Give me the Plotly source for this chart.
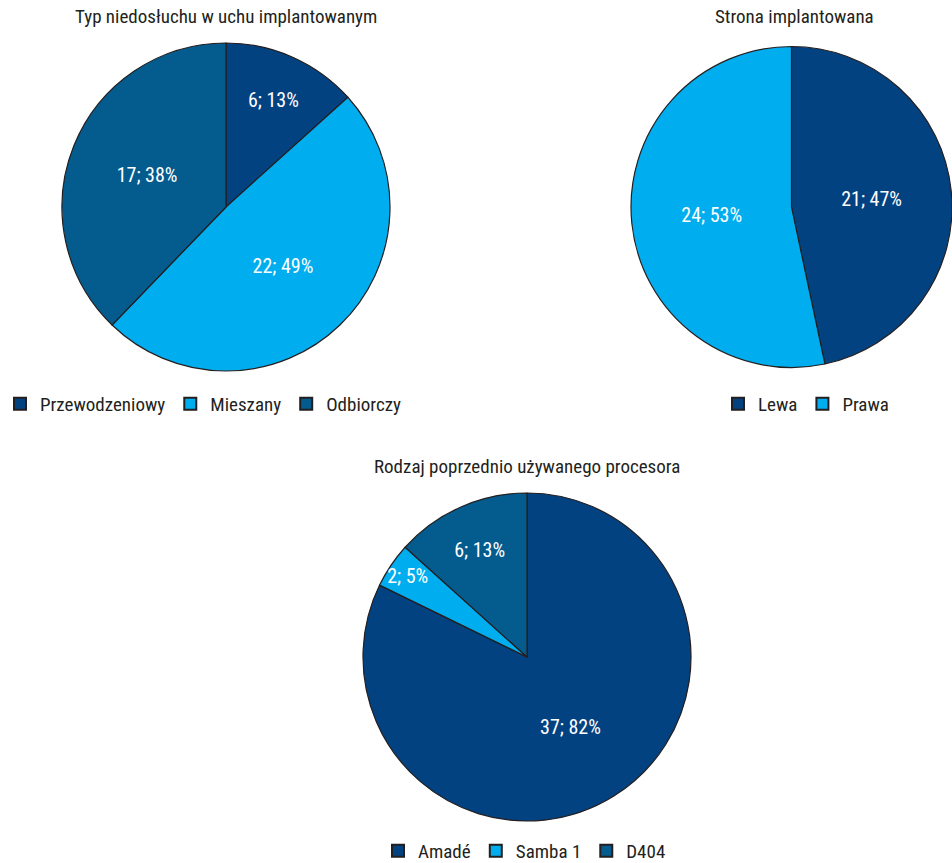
import plotly.graph_objects as go

# Data
typ_labels = ["Przewodzeniowy", "Mieszany", "Odbiorczy"]
typ_values = [6, 22, 17]
typ_pct = [13, 49, 38]

strona_labels = ["Lewa", "Prawa"]
strona_values = [21, 24]
strona_pct = [47, 53]

proc_labels = ["Amadé", "Samba 1", "D404"]
proc_values = [37, 2, 6]
proc_pct = [82, 5, 13]

DARK = "#034281"
LIGHT = "#00aeef"
MED = "#035b8e"
TXT = "#231f20"
FONT = "Liberation Sans Narrow, Roboto Condensed, Arial Narrow, sans-serif"

def lbl(vals, pcts):
    return [f"{v}; {p}%" for v, p in zip(vals, pcts)]

H = 863.0
W = 952.0

fig = go.Figure()

common = dict(direction="clockwise", sort=False, rotation=0,
              textinfo="text", textposition="inside",
              insidetextorientation="horizontal",
              textfont=dict(color="white", size=20, family=FONT),
              marker_line=dict(color=TXT, width=1.2),
              hoverinfo="label+value+percent")

fig.add_trace(go.Pie(labels=typ_labels, values=typ_values, text=lbl(typ_values, typ_pct),
                     marker_colors=[DARK, LIGHT, MED],
                     domain=dict(x=[62/W, 390/W], y=[1-371/H, 1-43/H]),
                     legend="legend", **common))
fig.add_trace(go.Pie(labels=strona_labels, values=strona_values, text=lbl(strona_values, strona_pct),
                     marker_colors=[DARK, LIGHT],
                     domain=dict(x=[631/W, 1.0], y=[1-371/H, 1-43/H]),
                     legend="legend2", **common))
fig.add_trace(go.Pie(labels=proc_labels, values=proc_values, text=lbl(proc_values, proc_pct),
                     marker_colors=[DARK, LIGHT, MED],
                     domain=dict(x=[363/W, 691/W], y=[1-821/H, 1-493/H]),
                     legend="legend3", **common))

legend_common = dict(orientation="h", font=dict(size=19, color=TXT, family=FONT),
                     bgcolor="rgba(0,0,0,0)", itemsizing="constant",
                     xanchor="left", yanchor="middle", itemclick=False, itemdoubleclick=False)

title_font = dict(size=19, color=TXT, family=FONT)

fig.update_layout(
    width=952, height=863,
    margin=dict(l=0, r=0, t=0, b=0, autoexpand=False),
    paper_bgcolor="white", plot_bgcolor="white",
    font=dict(family=FONT, color=TXT),
    uniformtext=dict(minsize=20, mode="show"),
    legend=dict(x=0.0, y=1-404/H, **legend_common),
    legend2=dict(x=718/W, y=1-404/H, **legend_common),
    legend3=dict(x=378/W, y=1-851/H, **legend_common),
    annotations=[
        dict(text="Typ niedosłuchu w uchu implantowanym", x=226/W, y=1-17/H,
             xanchor="center", yanchor="middle",
             xref="paper", yref="paper", showarrow=False, font=title_font),
        dict(text="Strona implantowana", x=794/W, y=1-17/H,
             xanchor="center", yanchor="middle",
             xref="paper", yref="paper", showarrow=False, font=title_font),
        dict(text="Rodzaj poprzednio używanego procesora", x=527/W, y=1-466/H,
             xanchor="center", yanchor="middle",
             xref="paper", yref="paper", showarrow=False, font=title_font),
    ],
)

fig.write_html("out.html", config={"displayModeBar": False},
               post_script="document.body.style.margin='0';document.body.style.overflow='hidden';")
